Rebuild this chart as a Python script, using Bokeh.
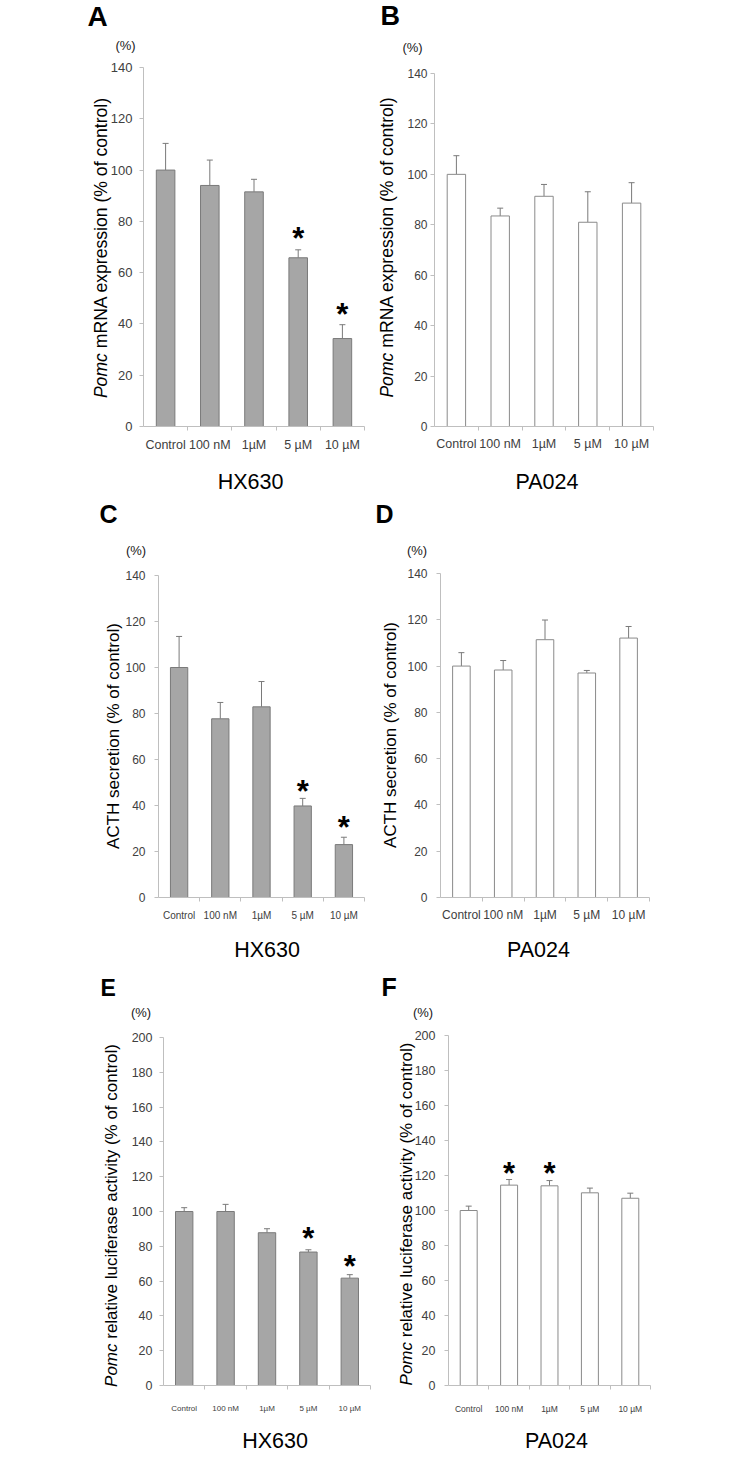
import math
import re
from bokeh.plotting import figure
from bokeh.models import ColumnDataSource, Whisker, TeeHead, FixedTicker, Label, Range1d
from bokeh.layouts import column, row
from bokeh.embed import file_html
from bokeh.resources import INLINE
from bokeh.core.properties import value

# ---------------- data ----------------
categories = ["Control", "100 nM", "1\u00b5M", "5 \u00b5M", "10 \u00b5M"]

a_mean = [100.0, 94.0, 91.5, 65.8, 34.3]
a_upper = [110.4, 103.9, 96.4, 68.9, 39.7]
a_star_idx = [3, 4]
a_star_y = [77.0, 47.0]

b_mean = [100.0, 83.5, 91.3, 81.0, 88.6]
b_upper = [107.4, 86.6, 96.0, 93.1, 96.7]
b_star_idx = []
b_star_y = []

c_mean = [100.0, 77.7, 82.9, 39.8, 23.0]
c_upper = [113.5, 84.8, 93.9, 43.1, 26.2]
c_star_idx = [3, 4]
c_star_y = [49.9, 34.5]

d_mean = [100.0, 98.3, 111.4, 97.0, 112.1]
d_upper = [105.8, 102.4, 119.9, 98.1, 117.1]
d_star_idx = []
d_star_y = []

e_mean = [100.0, 100.0, 87.8, 76.7, 61.7]
e_upper = [102.2, 104.1, 90.1, 78.0, 63.7]
e_star_idx = [3, 4]
e_star_y = [89.4, 73.4]

f_mean = [100.0, 114.5, 114.1, 110.1, 107.0]
f_upper = [102.5, 117.7, 117.1, 112.8, 109.9]
f_star_idx = [1, 2]
f_star_y = [126.3, 126.3]

y_max_mrna = 140
y_max_acth = 140
y_max_luc = 200

FONT = "Liberation Sans"
GRAY_FILL = "#a6a6a6"
GRAY_EDGE = "#7a7a7a"
WHITE_EDGE = "#8a8a8a"
AXIS = "#bfbfbf"
TICKTXT = "#404040"

# Arial-metric advance widths (em) for centering the composite y labels
CW = {' ': .278, '(': .333, ')': .333, '%': .889, 'A': .667, 'C': .722, 'H': .722,
      'N': .722, 'P': .667, 'R': .722, 'T': .611, 'a': .556, 'c': .5, 'e': .556,
      'f': .278, 'i': .222, 'l': .222, 'm': .833, 'n': .556, 'o': .556, 'p': .556,
      'r': .333, 's': .5, 't': .278, 'u': .556, 'v': .5, 'x': .5, 'y': .5}


def tw(s, size):
    s = re.sub(r" +", " ", s)
    return sum(CW.get(ch, .55) for ch in s) * size


def make_panel(mean, upper, star_idx, star_y, ymax, fill, edge, fig_box, frame_box,
               letter, letter_pos, letter_size, pct_pos, ylabel_parts, ylabel_center, ysz,
               group, group_pos, xfont, xstand, yfont, ystand):
    n = len(categories)
    fx, fy, fw, fh = fig_box
    flx, fty, flw, fth = frame_box
    fbot = fty + fth

    # map picture pixels to data units (the drawing area spans the whole figure)
    def dx(ix):
        return (ix - flx) / flw * n

    def dy(iy):
        return (fbot - iy) / fth * ymax

    p = figure(width=fw, height=fh, x_range=Range1d(dx(fx), dx(fx + fw)),
               y_range=Range1d(dy(fy + fh), dy(fy)), output_backend="svg",
               toolbar_location=None, min_border=0)
    p.title.visible = False
    p.outline_line_color = None
    p.grid.grid_line_color = None
    p.background_fill_color = "white"
    p.border_fill_color = "white"

    xs = [i + 0.5 for i in range(n)]
    src = ColumnDataSource(dict(x=xs, top=mean, upper=upper))
    p.vbar(x="x", top="top", width=0.42, source=src, fill_color=fill,
           line_color=edge, line_width=1)
    wk = Whisker(source=src, base="x", upper="upper", lower="top", line_color=GRAY_EDGE,
                 line_width=1, upper_head=TeeHead(size=6, line_color=GRAY_EDGE, line_width=1),
                 lower_head=None)
    p.add_layout(wk)

    if star_idx:
        ss = 31
        p.text(x=[xs[i] for i in star_idx], y=star_y, text=["*"] * len(star_idx),
               text_font=value(FONT), text_font_style="bold", text_font_size=f"{ss}px",
               text_align="center", text_baseline="alphabetic", y_offset=9,
               text_color="black")

    # x axis
    xa = p.xaxis[0]
    xa.fixed_location = 0
    xa.bounds = (0, n)
    xa.ticker = FixedTicker(ticks=xs, minor_ticks=list(range(1, n + 1)))
    xa.major_label_overrides = {x: c for x, c in zip(xs, categories)}
    xa.major_tick_line_color = None
    xa.major_tick_in = 0
    xa.major_tick_out = 0
    xa.minor_tick_line_color = AXIS
    xa.minor_tick_in = 0
    xa.minor_tick_out = 4
    xa.axis_line_color = AXIS
    xa.major_label_text_font = FONT
    xa.major_label_text_font_size = f"{xfont}px"
    xa.major_label_text_color = TICKTXT
    xa.major_label_standoff = xstand

    ya = p.yaxis[0]
    ya.fixed_location = 0
    ya.bounds = (0, ymax)
    ya.ticker = FixedTicker(ticks=list(range(0, ymax + 1, 20)))
    ya.minor_tick_line_color = None
    ya.major_tick_in = 0
    ya.major_tick_out = 4
    ya.major_tick_line_color = AXIS
    ya.axis_line_color = AXIS
    ya.major_label_text_font = FONT
    ya.major_label_text_font_size = f"{yfont}px"
    ya.major_label_text_color = TICKTXT
    ya.major_label_standoff = ystand

    def lab(text, ix, iy, **kw):
        p.add_layout(Label(x=dx(ix), y=dy(iy), text=text, text_font=FONT, **kw))

    lab(letter, letter_pos[0], letter_pos[1], text_font_size=f"{letter_size}px",
        text_font_style="bold", text_align="left", text_baseline="middle",
        text_color="black")
    lab("(%)", pct_pos[0], pct_pos[1], text_font_size="13px", text_align="center",
        text_baseline="middle", text_color="#202020")
    lab(group, group_pos[0], group_pos[1], text_font_size="21.5px", text_align="center",
        text_baseline="middle", text_color="black")

    space = tw(" ", ysz)
    total = sum(tw(t, ysz) for t, _ in ylabel_parts) + space * (len(ylabel_parts) - 1)
    start = ylabel_center[1] + total / 2.0
    off = 0.0
    for t, style in ylabel_parts:
        lab(t, ylabel_center[0], start - off, text_font_size=f"{ysz}px",
            text_font_style=style, text_align="left", text_baseline="middle",
            angle=math.pi / 2, text_color="black")
        off += tw(t, ysz) + space
    return p


mrna_label = [("Pomc", "italic"), ("mRNA expression  (% of control)", "normal")]
acth_label = [("ACTH  secretion (% of control)", "normal")]
luc_label = [("Pomc", "italic"), ("relative luciferase activity (% of control)", "normal")]

pA = make_panel(a_mean, a_upper, a_star_idx, a_star_y, y_max_mrna, GRAY_FILL, GRAY_EDGE,
                (8, 8, 372, 494), (151, 75, 221, 359), "A", (95, 24), 28, (133, 53),
                mrna_label, (108, 255), 17.6, "HX630", (258, 489), 12.5, 7, 13, 7)
pB = make_panel(b_mean, b_upper, b_star_idx, b_star_y, y_max_mrna, "white", WHITE_EDGE,
                (380, 8, 345, 494), (442, 81, 219, 353), "B", (388, 23.5), 27, (420, 55),
                mrna_label, (394, 254.5), 17.6, "PA024", (554.5, 489), 12.5, 6, 12, 3)
pC = make_panel(c_mean, c_upper, c_star_idx, c_star_y, y_max_acth, GRAY_FILL, GRAY_EDGE,
                (8, 502, 372, 468), (166, 583, 206, 322), "C", (107, 521), 25, (143.5, 558),
                acth_label, (120.5, 743.5), 17, "HX630", (274.5, 957.5), 10, 8, 12, 9)
pD = make_panel(d_mean, d_upper, d_star_idx, d_star_y, y_max_acth, "white", WHITE_EDGE,
                (380, 502, 345, 468), (448, 581, 209, 324), "D", (383, 521), 25, (424.5, 558),
                acth_label, (397.5, 742.5), 17, "PA024", (546, 957), 12, 6, 12, 9)
pE = make_panel(e_mean, e_upper, e_star_idx, e_star_y, y_max_luc, GRAY_FILL, GRAY_EDGE,
                (8, 970, 372, 491), (171, 1045, 207, 348), "E", (108, 995), 23, (148.5, 1020),
                luc_label, (118.5, 1223), 17, "HX630", (282.5, 1448), 8, 14, 12.5, 7)
pF = make_panel(f_mean, f_upper, f_star_idx, f_star_y, y_max_luc, "white", WHITE_EDGE,
                (380, 970, 345, 491), (456, 1043, 202, 350), "F", (389, 994), 25, (430.5, 1020),
                luc_label, (413.5, 1221.5), 17, "PA024", (564, 1448), 8.5, 14, 12.5, 9)

layout = column(row(pA, pB), row(pC, pD), row(pE, pF))
open("out.html", "w").write(file_html(layout, INLINE))
